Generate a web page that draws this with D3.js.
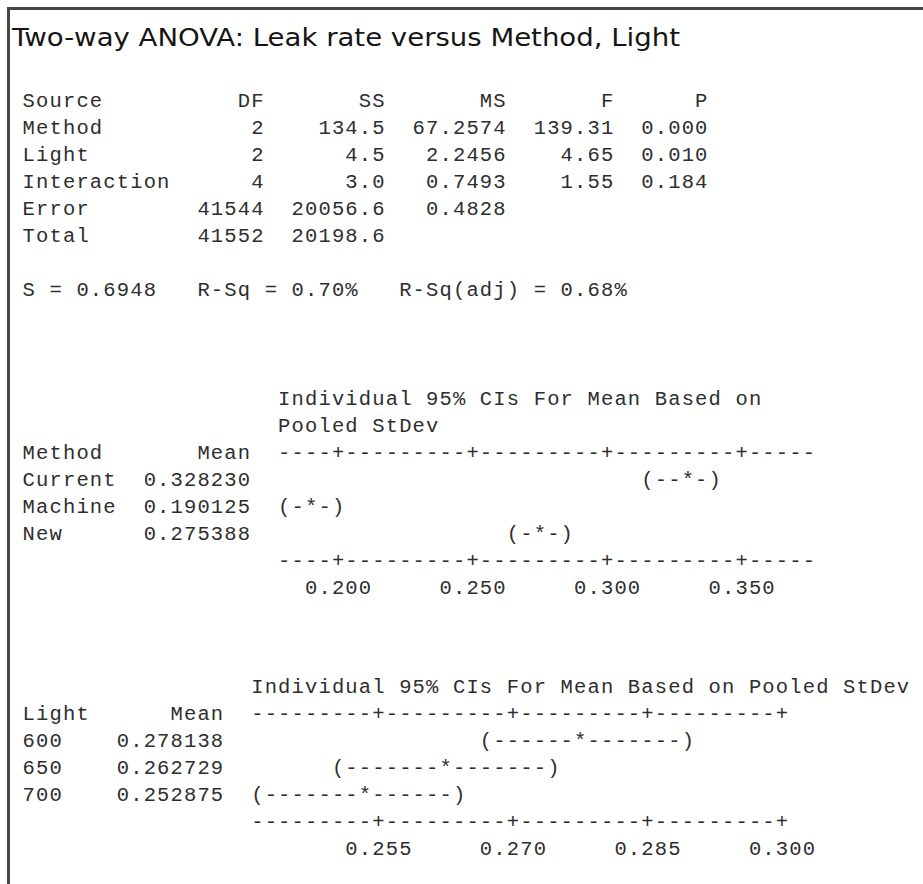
<!DOCTYPE html>
<html>
<head>
<meta charset="utf-8">
<script src="https://cdn.jsdelivr.net/npm/d3@7"></script>
<style>
  html, body { margin: 0; padding: 0; background: #ffffff; }
  svg { display: block; }
</style>
</head>
<body>
<div id="chart"></div>
<script>
// ---------------- data ----------------
const titleText = "Two-way ANOVA: Leak rate versus Method, Light";

const anovaHeader = ["Source", "DF", "SS", "MS", "F", "P"];
const anovaSources = ["Method", "Light", "Interaction", "Error", "Total"];
const anovaDF = ["2", "2", "4", "41544", "41552"];
const anovaSS = ["134.5", "4.5", "3.0", "20056.6", "20198.6"];
const anovaMS = ["67.2574", "2.2456", "0.7493", "0.4828", ""];
const anovaF = ["139.31", "4.65", "1.55", "", ""];
const anovaP = ["0.000", "0.010", "0.184", "", ""];

const fitS = "0.6948";
const fitRSq = "0.70";
const fitRSqAdj = "0.68";

const methodLevels = ["Current", "Machine", "New"];
const methodMeans = [0.328230, 0.190125, 0.275388];
const methodLower = [0.31623, 0.180125, 0.265388];
const methodUpper = [0.34023, 0.200125, 0.285388];
const methodTicks = [0.200, 0.250, 0.300, 0.350];

const lightLevels = ["600", "650", "700"];
const lightMeans = [0.278138, 0.262729, 0.252875];
const lightLower = [0.266888, 0.250729, 0.241625];
const lightUpper = [0.289388, 0.274729, 0.264125];
const lightTicks = [0.255, 0.270, 0.285, 0.300];

// ---------------- layout ----------------
const WIDTH = 923, HEIGHT = 884;
const W = 13.45;          // character cell width
const X0 = 22;            // left of column 0
const FS = 20.5;          // mono font size
const ADV = 0.6 * FS;
const MONO = "'Liberation Mono', 'DejaVu Sans Mono', monospace";
const INK = "#2e2e2e";

const svg = d3.select("#chart").append("svg")
  .attr("width", WIDTH).attr("height", HEIGHT)
  .attr("viewBox", `0 0 ${WIDTH} ${HEIGHT}`);

svg.append("rect").attr("width", WIDTH).attr("height", HEIGHT).attr("fill", "#fff");

// frame (continues beyond the right and bottom edges)
svg.append("path")
  .attr("d", `M8.5,${HEIGHT + 5} V8.5 H${WIDTH + 5}`)
  .attr("fill", "none").attr("stroke", "#474747").attr("stroke-width", 3);

const g = svg.append("g")
  .attr("font-family", MONO).attr("font-size", FS).attr("fill", INK);

function colX(c) { return X0 + c * W; }

// draw a string on the character grid starting at column col
function mono(str, col, y) {
  const pad = (W - ADV) / 2;
  const re = /\S+/g;
  let m;
  while ((m = re.exec(str)) !== null) {
    const tok = m[0], idx = m.index;
    const xs = d3.range(tok.length).map(j => (colX(col + idx + j) + pad).toFixed(2));
    g.append("text").attr("x", xs.join(" ")).attr("y", y).text(tok);
  }
}
function monoRight(str, endCol, y) { mono(str, endCol - str.length, y); }

// ---------------- title ----------------
svg.append("text")
  .attr("x", 12).attr("y", 46)
  .attr("font-family", "'DejaVu Sans', Verdana, sans-serif")
  .attr("font-size", 24)
  .attr("fill", "#151515")
  .attr("textLength", 668)
  .attr("lengthAdjust", "spacingAndGlyphs")
  .text(titleText);

// ---------------- ANOVA table ----------------
const tableTop = 107, rowH = 27;
const colEnds = [null, 18, 27, 36, 44, 51];
mono(anovaHeader[0], 0, tableTop);
anovaHeader.slice(1).forEach((h, i) => monoRight(h, colEnds[i + 1], tableTop));
anovaSources.forEach((s, i) => {
  const y = tableTop + (i + 1) * rowH;
  mono(s, 0, y);
  [anovaDF, anovaSS, anovaMS, anovaF, anovaP].forEach((arr, k) => {
    if (arr[i]) monoRight(arr[i], colEnds[k + 1], y);
  });
});

mono(`S = ${fitS}   R-Sq = ${fitRSq}%   R-Sq(adj) = ${fitRSqAdj}%`, 0, 296);

// ---------------- interval plots ----------------
function intervalBlock(opts) {
  const { factor, levels, means, lower, upper, ticks, headerLines, headerCol,
          meanEnd, axisStart, axisEnd, tickCols, yHeader, yAxisTop, rowStep } = opts;
  // d3 scale: value -> x pixel (cell left) on the character grid
  const x = d3.scaleLinear()
    .domain([ticks[0], ticks[ticks.length - 1]])
    .range([colX(tickCols[0]), colX(tickCols[1])]);
  const toCol = v => Math.round((x(v) - X0) / W);

  headerLines.forEach((t, i) => mono(t, headerCol, yHeader + i * rowStep));

  // axis rule string built from ticks
  const tickSet = new Set(ticks.map(toCol));
  const rule = d3.range(axisStart, axisEnd + 1).map(c => tickSet.has(c) ? "+" : "-").join("");

  mono(factor, 0, yAxisTop);
  monoRight("Mean", meanEnd, yAxisTop);
  mono(rule, axisStart, yAxisTop);

  const fmt6 = d3.format(".6f");
  levels.forEach((lv, i) => {
    const y = yAxisTop + (i + 1) * rowStep;
    mono(lv, 0, y);
    monoRight(fmt6(means[i]), meanEnd, y);
    const lo = toCol(lower[i]), hi = toCol(upper[i]), mc = toCol(means[i]);
    const s = d3.range(lo, hi + 1).map(c => c === lo ? "(" : c === hi ? ")" : c === mc ? "*" : "-").join("");
    mono(s, lo, y);
  });

  const yBottom = yAxisTop + (levels.length + 1) * rowStep;
  mono(rule, axisStart, yBottom);
  const fmt3 = d3.format(".3f");
  ticks.forEach(t => {
    const lab = fmt3(t);
    mono(lab, toCol(t) - Math.floor(lab.length / 2), yBottom + rowStep);
  });
}

intervalBlock({
  factor: "Method", levels: methodLevels, means: methodMeans,
  lower: methodLower, upper: methodUpper, ticks: methodTicks,
  headerLines: ["Individual 95% CIs For Mean Based on", "Pooled StDev"],
  headerCol: 19, meanEnd: 17, axisStart: 19, axisEnd: 58, tickCols: [23, 53],
  yHeader: 405, yAxisTop: 459, rowStep: 27
});

intervalBlock({
  factor: "Light", levels: lightLevels, means: lightMeans,
  lower: lightLower, upper: lightUpper, ticks: lightTicks,
  headerLines: ["Individual 95% CIs For Mean Based on Pooled StDev"],
  headerCol: 17, meanEnd: 15, axisStart: 17, axisEnd: 56, tickCols: [26, 56],
  yHeader: 693, yAxisTop: 720, rowStep: 27
});
</script>
</body>
</html>
